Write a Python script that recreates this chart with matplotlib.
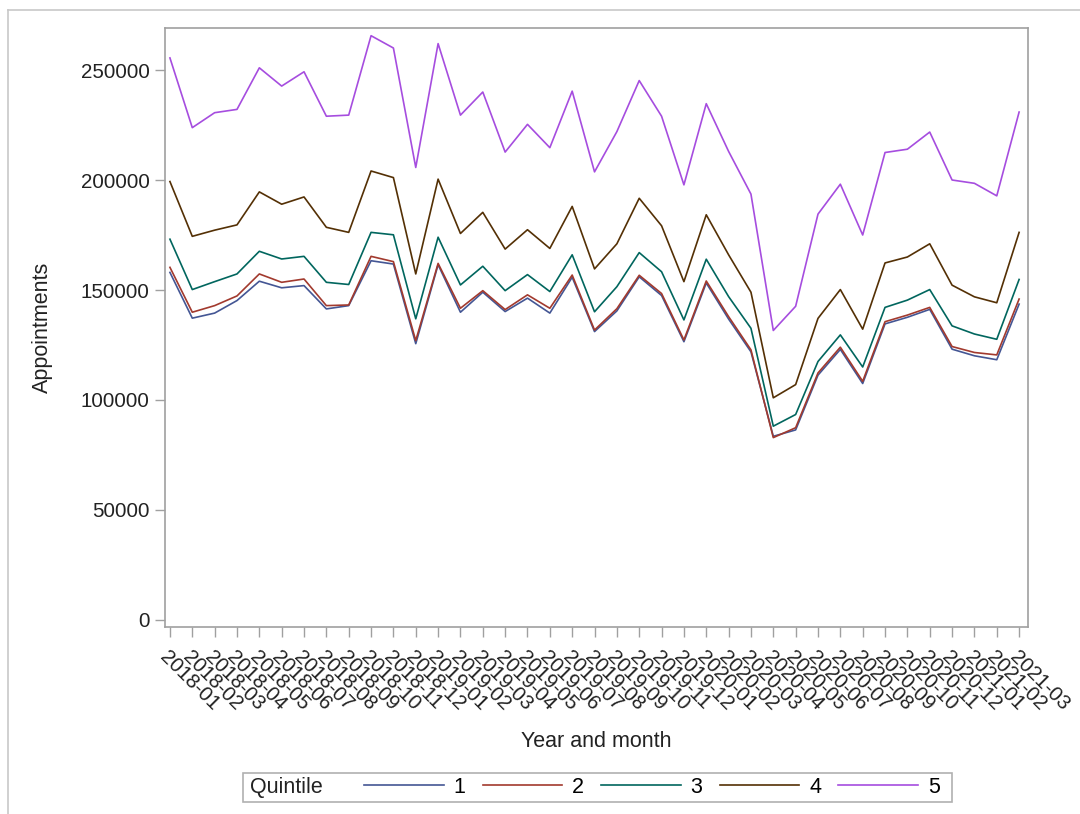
import numpy as np
import matplotlib
matplotlib.use("Agg")
import matplotlib.pyplot as plt
from matplotlib.patches import Rectangle
from matplotlib.lines import Line2D

plt.rcParams["font.family"] = ["Liberation Sans", "DejaVu Sans"]

# months 2018-01 .. 2021-03
months = [f"{y}-{m:02d}" for y in (2018, 2019, 2020) for m in range(1, 13)] + \
         ["2021-01", "2021-02", "2021-03"]

q1 = [158000, 137200, 139500, 145200, 154000, 151000, 152000, 141400, 142900, 163300,
      161800, 125600, 161500, 139900, 149000, 140200, 146300, 139500, 155800, 131100,
      140500, 156000, 147500, 126500, 153200, 136800, 121900, 83500, 86400, 111300,
      123000, 107500, 134600, 137600, 141200, 123100, 120100, 118300, 143600]
q2 = [160300, 139900, 142900, 147300, 157300, 153500, 155000, 142900, 143200, 165300,
      162900, 127000, 162100, 141700, 149700, 141100, 147800, 141700, 156800, 131800,
      141500, 156700, 148400, 127300, 154100, 137900, 122800, 82900, 87400, 112300,
      124000, 108500, 135600, 138600, 142100, 124300, 121600, 120500, 145900]
q3 = [173100, 150200, 153800, 157300, 167600, 164100, 165300, 153500, 152500, 176200,
      175100, 136900, 174000, 152300, 160800, 149700, 157000, 149300, 166000, 140100,
      151500, 167000, 158300, 136400, 164000, 147000, 132600, 88100, 93400, 117500,
      129600, 115000, 142100, 145400, 150200, 133700, 130000, 127600, 154800]
q4 = [199300, 174400, 177200, 179600, 194600, 189000, 192300, 178500, 176200, 204100,
      201100, 157300, 200400, 175700, 185300, 168600, 177400, 168900, 188000, 159600,
      171000, 191700, 179200, 153800, 184200, 166000, 149000, 101000, 107000, 137100,
      150200, 132200, 162300, 165000, 171000, 152200, 146900, 144200, 176200]
q5 = [255500, 223800, 230600, 232100, 251000, 242700, 249200, 229000, 229500, 265600,
      260000, 205700, 262000, 229500, 240000, 212700, 225300, 214700, 240400, 203700,
      222000, 245200, 229000, 197800, 234700, 213000, 193600, 131600, 142600, 184500,
      198100, 175000, 212500, 214000, 221800, 200000, 198500, 192800, 230900]

quintiles = ["1", "2", "3", "4", "5"]
series = [q1, q2, q3, q4, q5]
colors = ["#445694", "#A23A2E", "#01665E", "#543005", "#A64DDF"]

fig = plt.figure(figsize=(10.8, 8.14), dpi=100)
ax = fig.add_axes([0.1528, 0.2297, 0.7991, 0.7359])

x = np.arange(len(months))
handles = []
for vals, col, lab in zip(series, colors, quintiles):
    ln, = ax.plot(x, vals, color=col, lw=1.2, label=lab)
    handles.append(ln)

ax.set_xlim(-0.22, len(months) - 1 + 0.4)
ax.set_ylim(-3200, 269100)
ax.set_yticks([0, 50000, 100000, 150000, 200000, 250000])
ax.set_xticks(x)
ax.set_xticklabels(months, rotation=-45, ha="left", va="top", rotation_mode="anchor")

for s in ax.spines.values():
    s.set_color("#A0A0A0")
    s.set_linewidth(1.2)
ax.tick_params(axis="both", colors="#A0A0A0", labelcolor="#222222", labelsize=14.8,
               length=7, width=1)
ax.tick_params(axis="x", pad=8)
ax.tick_params(axis="y", pad=4)

ax.set_xlabel("Year and month", fontsize=15.5, color="#222222", labelpad=12)
ax.set_ylabel("Appointments", fontsize=15.5, color="#222222", labelpad=20)

# legend at bottom with "Quintile" title on the left
fig.patches.append(Rectangle((0.225, 0.0147), 0.6565, 0.0356, transform=fig.transFigure,
                             fill=False, edgecolor="#B0B0B0", lw=1.2))
fig.text(0.2315, 0.0326, "Quintile", fontsize=15.5, color="#222222", va="center", ha="left")
fig.legend(handles=handles, labels=quintiles, ncol=5, frameon=False, loc="center",
           bbox_to_anchor=(0.6037, 0.0326), fontsize=15.5, handlelength=3.7,
           handletextpad=0.45, columnspacing=0.8, borderpad=0)

# outer frame lines
fig.add_artist(Line2D([8 / 1080, 1], [1 - 10 / 814, 1 - 10 / 814], color="#C8C8C8", lw=1.2))
fig.add_artist(Line2D([8 / 1080, 8 / 1080], [0, 1 - 10 / 814], color="#C8C8C8", lw=1.2))

fig.savefig("out.png", dpi=100)
